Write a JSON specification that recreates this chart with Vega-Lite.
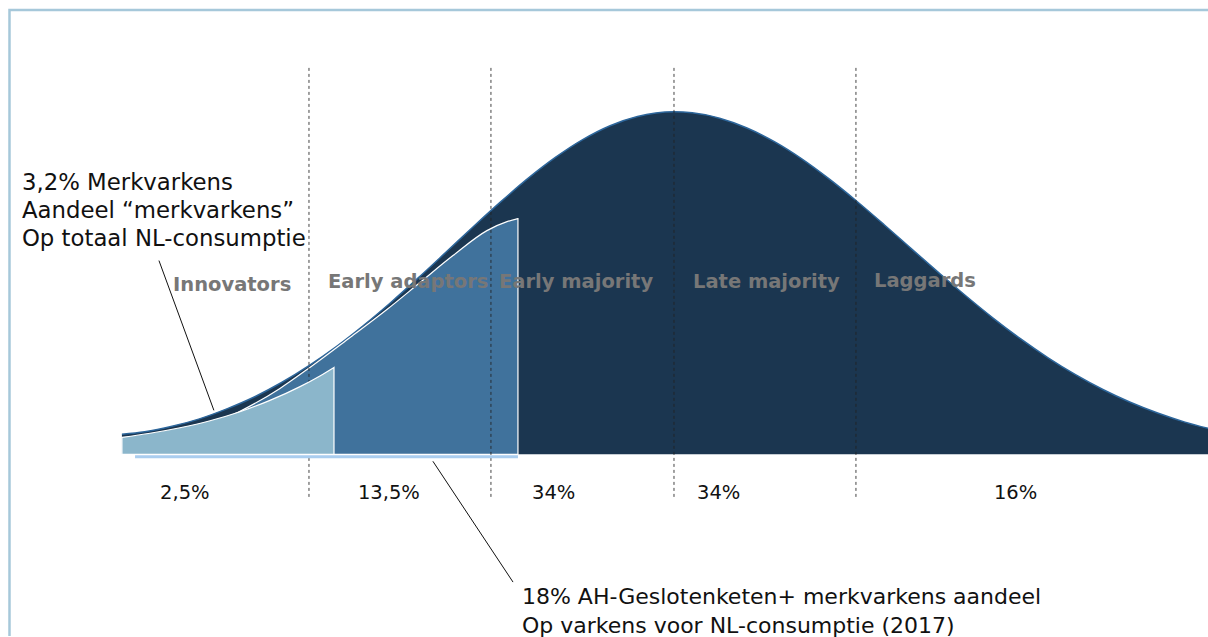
{
  "$schema": "https://vega.github.io/schema/vega-lite/v6.json",
  "autosize": {"type": "fit", "contains": "padding"},
  "width": 1208,
  "height": 637,
  "padding": 0,
  "background": "white",
  "config": {"view": {"stroke": null}, "font": "DejaVu Sans"},
  "layer": [
    {
      "data": {"values": [{"x1": -3.641, "x2": 3.2, "y1": 445, "y2": -200}]},
      "mark": {"type": "rect", "fill": null, "stroke": "#a6c8da", "strokeWidth": 2.5, "clip": true},
      "encoding": {
        "x": {"field": "x1", "type": "quantitative", "scale": {"domain": [-3.693, 2.926], "nice": false, "zero": false}, "axis": null},
        "x2": {"field": "x2"},
        "y": {"field": "y1", "type": "quantitative", "scale": {"domain": [-182, 455], "nice": false, "zero": false}, "axis": null},
        "y2": {"field": "y2"}
      }
    },
    {
      "data": {"values": [
        {"z": -3.025, "h": 20}, {"z": -2.9, "h": 22.5}, {"z": -2.75, "h": 28}, {"z": -2.6, "h": 35.5},
        {"z": -2.45, "h": 45.5}, {"z": -2.3, "h": 57.4}, {"z": -2.15, "h": 71.9}, {"z": -2.0, "h": 88.8},
        {"z": -1.85, "h": 107.9}, {"z": -1.7, "h": 129.2}, {"z": -1.55, "h": 152.3}, {"z": -1.4, "h": 176.9},
        {"z": -1.25, "h": 202.3}, {"z": -1.1, "h": 227.9}, {"z": -0.95, "h": 252.8}, {"z": -0.8, "h": 276.3},
        {"z": -0.65, "h": 297.3}, {"z": -0.5, "h": 315.2}, {"z": -0.35, "h": 329.1}, {"z": -0.2, "h": 338.4},
        {"z": -0.1, "h": 341.8}, {"z": 0.0, "h": 343}, {"z": 0.1, "h": 342.0}, {"z": 0.25, "h": 336.6},
        {"z": 0.4, "h": 326.8}, {"z": 0.55, "h": 313.1}, {"z": 0.7, "h": 295.9}, {"z": 0.85, "h": 275.8},
        {"z": 1.0, "h": 253.7}, {"z": 1.15, "h": 230.2}, {"z": 1.3, "h": 206.0}, {"z": 1.45, "h": 182.0},
        {"z": 1.6, "h": 158.5}, {"z": 1.75, "h": 136.2}, {"z": 1.9, "h": 115.5}, {"z": 2.05, "h": 96.6},
        {"z": 2.2, "h": 79.7}, {"z": 2.35, "h": 64.9}, {"z": 2.5, "h": 52.1}, {"z": 2.65, "h": 41.3},
        {"z": 2.8, "h": 32.2}, {"z": 2.93, "h": 25.8}, {"z": 3.0, "h": 22.7}
      ]},
      "layer": [
        {
          "mark": {"type": "area", "color": "#1b3650", "interpolate": "monotone", "clip": true},
          "encoding": {
            "x": {"field": "z", "type": "quantitative"},
            "y": {"field": "h", "type": "quantitative"},
            "y2": {"datum": 0}
          }
        },
        {
          "mark": {"type": "line", "color": "#2d669b", "strokeWidth": 1.5, "interpolate": "monotone", "clip": true},
          "encoding": {
            "x": {"field": "z", "type": "quantitative"},
            "y": {"field": "h", "type": "quantitative"}
          }
        }
      ]
    },
    {
      "data": {"values": [
        {"z": -2.433, "h": 38}, {"z": -2.378, "h": 43}, {"z": -2.159, "h": 66}, {"z": -1.995, "h": 87},
        {"z": -1.775, "h": 117}, {"z": -1.573, "h": 145}, {"z": -1.392, "h": 172}, {"z": -1.211, "h": 199},
        {"z": -1.025, "h": 224}, {"z": -0.915, "h": 233}, {"z": -0.855, "h": 236}
      ]},
      "mark": {"type": "area", "color": "#40729c", "stroke": "white", "strokeWidth": 1.2, "interpolate": "monotone"},
      "encoding": {
        "x": {"field": "z", "type": "quantitative"},
        "y": {"field": "h", "type": "quantitative"},
        "y2": {"datum": 0}
      }
    },
    {
      "data": {"values": [{"z": -2.0}, {"z": -1.003}, {"z": 0.0}, {"z": 0.997}]},
      "mark": {"type": "rule", "color": "#222222", "strokeWidth": 1, "strokeDash": [3, 3], "opacity": 0.85},
      "encoding": {
        "x": {"field": "z", "type": "quantitative"},
        "y": {"datum": 387},
        "y2": {"datum": -45}
      }
    },
    {
      "data": {"values": [
        {"z": -3.025, "h": 17}, {"z": -2.871, "h": 21.1}, {"z": -2.707, "h": 26.6}, {"z": -2.542, "h": 33.6},
        {"z": -2.378, "h": 42.6}, {"z": -2.214, "h": 54}, {"z": -2.049, "h": 67.8}, {"z": -1.94, "h": 78.5},
        {"z": -1.863, "h": 87}
      ]},
      "mark": {"type": "area", "color": "#8bb6cb", "stroke": "white", "strokeWidth": 1.2, "interpolate": "monotone"},
      "encoding": {
        "x": {"field": "z", "type": "quantitative"},
        "y": {"field": "h", "type": "quantitative"},
        "y2": {"datum": 0}
      }
    },
    {
      "data": {"values": [{"x1": -2.953, "x2": -0.855, "y1": -1, "y2": -4}]},
      "mark": {"type": "rect", "color": "#a9cdef"},
      "encoding": {
        "x": {"field": "x1", "type": "quantitative"},
        "x2": {"field": "x2"},
        "y": {"field": "y1", "type": "quantitative"},
        "y2": {"field": "y2"}
      }
    },
    {
      "data": {"values": [
        {"x1": -2.822, "y1": 194, "x2": -2.521, "y2": 44},
        {"x1": -1.321, "y1": -7, "x2": -0.882, "y2": -128}
      ]},
      "mark": {"type": "rule", "color": "#111111", "strokeWidth": 1},
      "encoding": {
        "x": {"field": "x1", "type": "quantitative"},
        "x2": {"field": "x2"},
        "y": {"field": "y1", "type": "quantitative"},
        "y2": {"field": "y2"}
      }
    },
    {
      "data": {"values": [
        {"z": -3.573, "h": 265, "t": "3,2% Merkvarkens"},
        {"z": -3.573, "h": 237, "t": "Aandeel “merkvarkens”"},
        {"z": -3.573, "h": 209, "t": "Op totaal NL-consumptie"}
      ]},
      "mark": {"type": "text", "align": "left", "baseline": "alphabetic", "fontSize": 22.8, "color": "#111111"},
      "encoding": {
        "x": {"field": "z", "type": "quantitative"},
        "y": {"field": "h", "type": "quantitative"},
        "text": {"field": "t"}
      }
    },
    {
      "data": {"values": [
        {"z": -0.833, "h": -150, "t": "18% AH-Geslotenketen+ merkvarkens aandeel"},
        {"z": -0.833, "h": -179, "t": "Op varkens voor NL-consumptie (2017)"}
      ]},
      "mark": {"type": "text", "align": "left", "baseline": "alphabetic", "fontSize": 22, "color": "#111111"},
      "encoding": {
        "x": {"field": "z", "type": "quantitative"},
        "y": {"field": "h", "type": "quantitative"},
        "text": {"field": "t"}
      }
    },
    {
      "data": {"values": [
        {"z": -2.745, "h": 164, "t": "Innovators"},
        {"z": -1.896, "h": 167, "t": "Early adaptors"},
        {"z": -0.959, "h": 167, "t": "Early majority"},
        {"z": 0.104, "h": 167, "t": "Late majority"},
        {"z": 1.096, "h": 168, "t": "Laggards"}
      ]},
      "mark": {"type": "text", "align": "left", "baseline": "alphabetic", "fontSize": 19.5, "fontWeight": "bold", "color": "#777777"},
      "encoding": {
        "x": {"field": "z", "type": "quantitative"},
        "y": {"field": "h", "type": "quantitative"},
        "text": {"field": "t"}
      }
    },
    {
      "data": {"values": [
        {"z": -2.816, "h": -45, "t": "2,5%"},
        {"z": -1.732, "h": -45, "t": "13,5%"},
        {"z": -0.778, "h": -45, "t": "34%"},
        {"z": 0.126, "h": -45, "t": "34%"},
        {"z": 1.753, "h": -45, "t": "16%"}
      ]},
      "mark": {"type": "text", "align": "left", "baseline": "alphabetic", "fontSize": 19.5, "color": "#111111"},
      "encoding": {
        "x": {"field": "z", "type": "quantitative"},
        "y": {"field": "h", "type": "quantitative"},
        "text": {"field": "t"}
      }
    }
  ]
}
